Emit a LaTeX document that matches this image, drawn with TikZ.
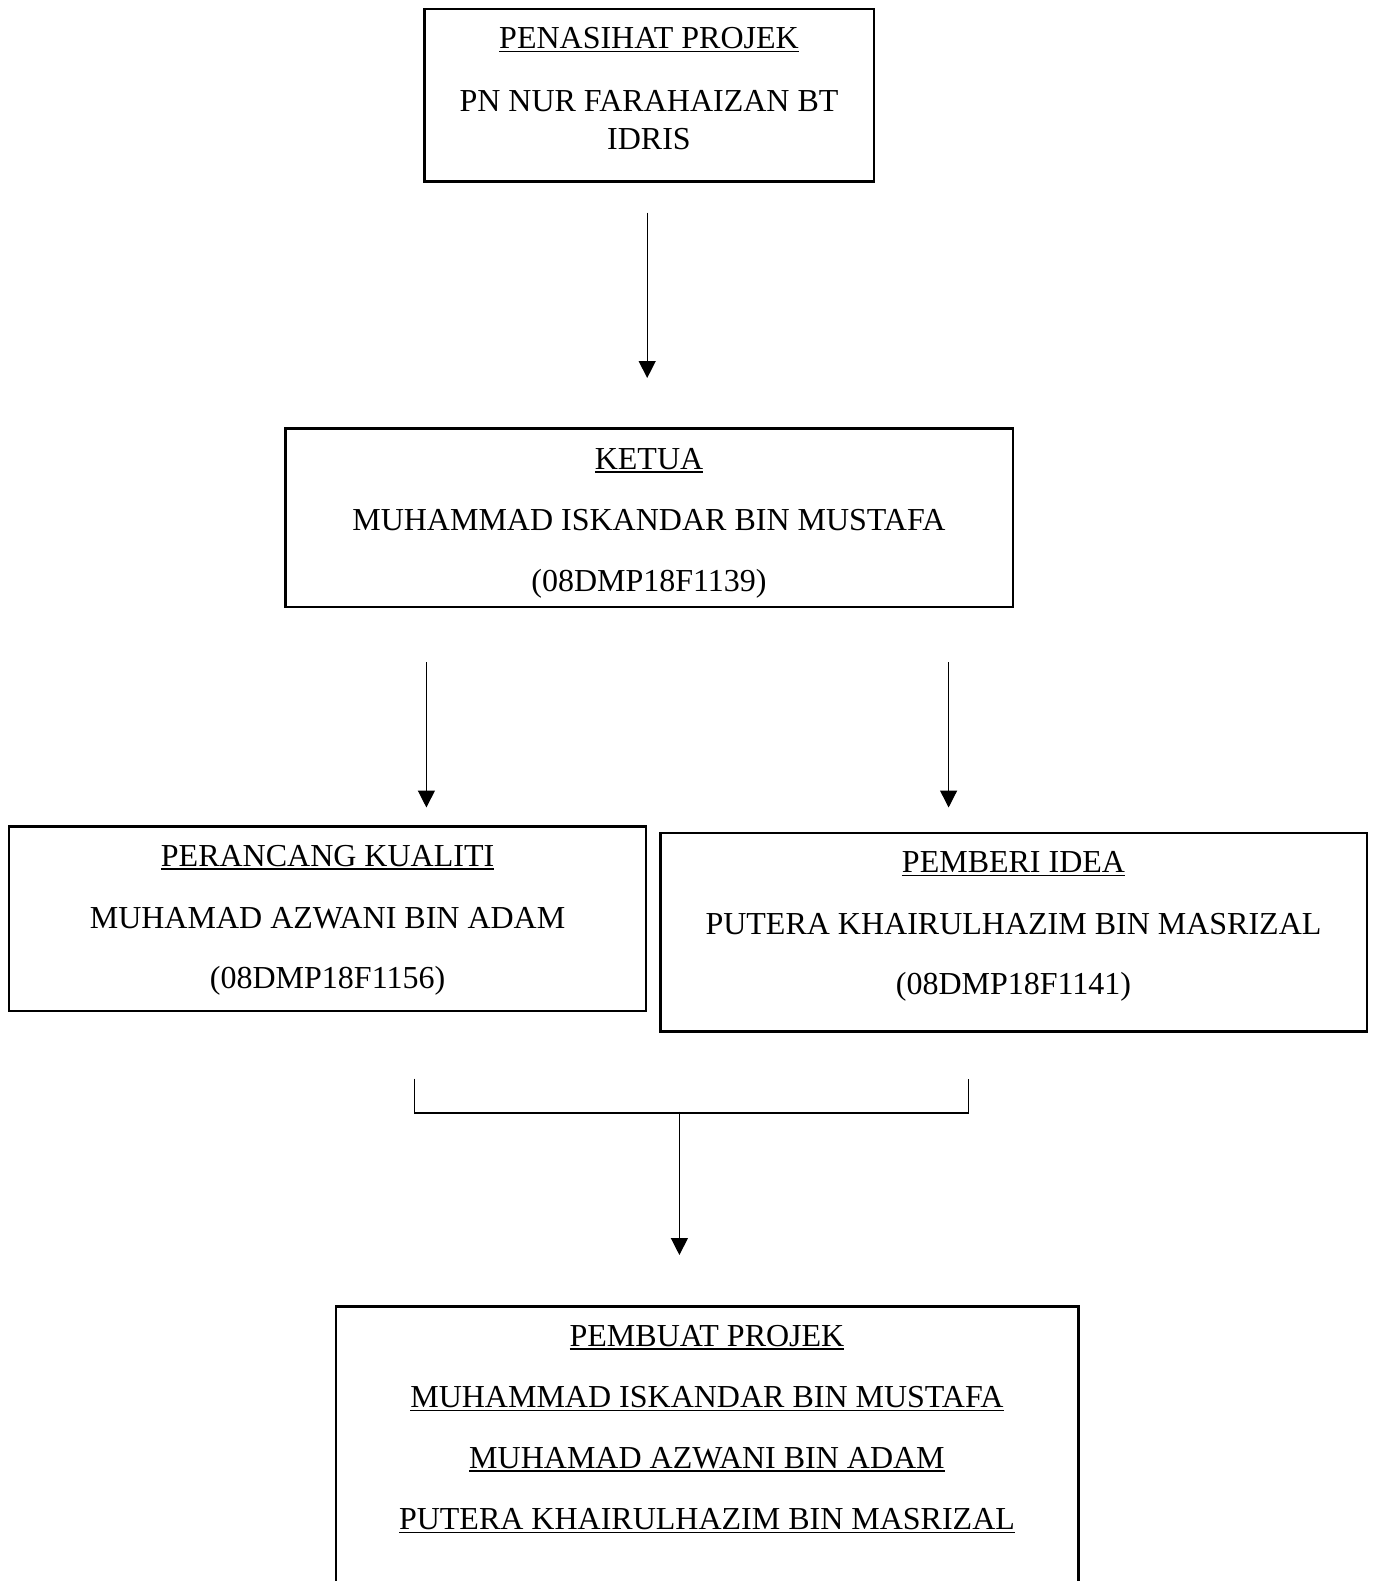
\documentclass[tikz,border=0pt]{standalone}
\usepackage{fontspec}
\setmainfont{Liberation Serif}
\usetikzlibrary{arrows.meta}
\newcommand\ulx[1]{\setbox0\hbox{#1}\rlap{\rule[-3.6pt]{\wd0}{1.7pt}}\box0}
\begin{document}
\begin{tikzpicture}[x=1pt,y=-1pt,
  box/.style={draw, line width=2.4pt, inner sep=0pt},
  txt/.style={anchor=base, inner sep=0pt, font=\fontsize{32}{38}\selectfont},
  arr/.style={line width=1.3pt, -{Triangle[length=17pt,width=17pt]}},
  lnk/.style={line width=1.3pt}
  ]
\useasboundingbox (0,0) rectangle (1373,1581);
\clip (0,0) rectangle (1373,1581);
% boxes
\node[box, minimum width=449.6pt, minimum height=172.4pt] (b1) at (649.2,95.3) {};
\node[box, minimum width=727.8pt, minimum height=178.5pt] (b2) at (649.2,517.65) {};
\node[box, minimum width=637.1pt, minimum height=184.5pt] (b3) at (327.65,918.85) {};
\node[box, minimum width=706.7pt, minimum height=198.6pt] (b4) at (1013.65,932) {};
\node[box, minimum width=742.9pt, minimum height=313.5pt] (b5) at (707.15,1463.25) {};
% texts
\node[txt] (t1a) at (649,48.9) {\ulx{PENASIHAT PROJEK}};
\node[txt] (t1b) at (649,111.4) {PN NUR FARAHAIZAN BT};
\node[txt] (t1c) at (649,149.7) {IDRIS};
\node[txt] (t2a) at (649,469.3) {\ulx{KETUA}};
\node[txt] (t2b) at (649,530.6) {MUHAMMAD ISKANDAR BIN MUSTAFA};
\node[txt] (t2c) at (649,591.3) {(08DMP18F1139)};
\node[txt] (t3a) at (327.6,866.5) {\ulx{PERANCANG KUALITI}};
\node[txt] (t3b) at (327.6,928) {MUHAMAD AZWANI BIN ADAM};
\node[txt] (t3c) at (327.6,988.4) {(08DMP18F1156)};
\node[txt] (t4a) at (1013.5,872.6) {\ulx{PEMBERI IDEA}};
\node[txt] (t4b) at (1013.5,934) {PUTERA KHAIRULHAZIM BIN MASRIZAL};
\node[txt] (t4c) at (1013.5,994.6) {(08DMP18F1141)};
\node[txt] (t5a) at (707,1346.3) {\ulx{PEMBUAT PROJEK}};
\node[txt] (t5b) at (707,1407.8) {\ulx{MUHAMMAD ISKANDAR BIN MUSTAFA}};
\node[txt] (t5c) at (707,1468.3) {\ulx{MUHAMAD AZWANI BIN ADAM}};
\node[txt] (t5d) at (707,1529.8) {\ulx{PUTERA KHAIRULHAZIM BIN MASRIZAL}};
% connectors
\coordinate (a1s) at (647.2,212.7);
\coordinate (a1e) at (647.2,378);
\coordinate (a2s) at (426.4,662.3);
\coordinate (a2e) at (426.4,807.5);
\coordinate (a3s) at (948.6,662.3);
\coordinate (a3e) at (948.6,807.5);
\coordinate (bl) at (414.3,1078.6);
\coordinate (blb) at (414.3,1112.9);
\coordinate (brb) at (968.8,1112.9);
\coordinate (br) at (968.8,1078.6);
\coordinate (cs) at (679.4,1111.5);
\coordinate (ce) at (679.4,1255);
\draw[arr] (a1s) -- (a1e);
\draw[arr] (a2s) -- (a2e);
\draw[arr] (a3s) -- (a3e);
\draw[lnk] (bl) -- (blb) -- (brb) -- (br);
\draw[arr] (cs) -- (ce);
\end{tikzpicture}
\end{document}
